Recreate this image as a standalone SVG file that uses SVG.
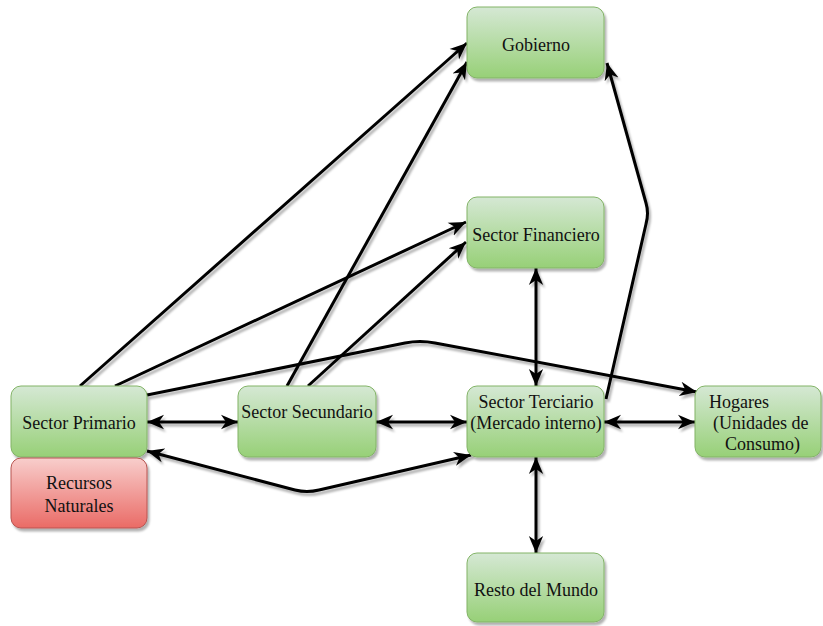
<svg xmlns="http://www.w3.org/2000/svg" width="823" height="626" viewBox="0 0 823 626">
<defs>
  <linearGradient id="gGreen" x1="0" y1="0" x2="0" y2="1">
    <stop offset="0" stop-color="#d5e8d4"/>
    <stop offset="1" stop-color="#97d077"/>
  </linearGradient>
  <linearGradient id="gRed" x1="0" y1="0" x2="0" y2="1">
    <stop offset="0" stop-color="#f8cecc"/>
    <stop offset="1" stop-color="#ea6b66"/>
  </linearGradient>
  <filter id="sh" x="-10%" y="-10%" width="130%" height="130%">
    <feDropShadow dx="2" dy="3" stdDeviation="1.2" flood-color="#000" flood-opacity="0.3"/>
  </filter>
  <marker id="arr" viewBox="0 0 10 10" refX="10" refY="5" markerWidth="17" markerHeight="17" markerUnits="userSpaceOnUse" orient="auto-start-reverse">
    <path d="M0,0.8 L10,5 L0,9.2 L3,5 Z" fill="#000"/>
  </marker>
  <style>
    .g { fill: url(#gGreen); stroke: #82b366; stroke-width: 1; filter: url(#sh); }
    .r { fill: url(#gRed); stroke: #b85450; stroke-width: 1; filter: url(#sh); }
    text { font-family: "Liberation Serif", "Times New Roman", serif; font-size: 18px; fill: #111; }
    .c { text-anchor: middle; }
    .e { fill: none; stroke: #000; stroke-width: 3; stroke-linejoin: round; }
    .a2 { marker-start: url(#arr); marker-end: url(#arr); }
    .a1 { marker-end: url(#arr); }
  </style>
</defs>
<g id="connectors" filter="url(#sh)">
  <path class="e a2" d="M147,422 L238,422"/>
  <path class="e a2" d="M376,422 L467,422"/>
  <path class="e a2" d="M604,422 L695,422"/>
  <path class="e a2" d="M536,268 L536,386"/>
  <path class="e a2" d="M536,457 L536,553"/>
  <path class="e a1" d="M80,386 L467,43"/>
  <path class="e a1" d="M115,386 L466,222"/>
  <path class="e a1" d="M287,386 L467,62"/>
  <path class="e a1" d="M308,386 L466,242"/>
  <path class="e a1" d="M147,395 L405,343 Q420,340 435,343 L697,392"/>
  <path class="e a2" d="M147,451 L295,490 Q307,493 319,490 L471,455"/>
  <path class="e a1" d="M606,399 L646,224 Q649,213 646,203 L607,63"/>
</g>
<g id="gobierno">
  <rect class="g" x="467" y="7" width="137" height="71" rx="10"/>
  <text class="c" x="536" y="51">Gobierno</text>
</g>
<g id="sector-financiero">
  <rect class="g" x="467" y="197" width="137" height="71" rx="10"/>
  <text class="c" x="536" y="241">Sector Financiero</text>
</g>
<g id="sector-primario">
  <rect class="g" x="11" y="386" width="136" height="71" rx="10"/>
  <text class="c" x="79" y="429">Sector Primario</text>
</g>
<g id="recursos-naturales">
  <rect class="r" x="11" y="458" width="136" height="70" rx="10"/>
  <text class="c" x="79" y="489">Recursos</text>
  <text class="c" x="79" y="512">Naturales</text>
</g>
<g id="sector-secundario">
  <rect class="g" x="238" y="386" width="138" height="71" rx="10"/>
  <text class="c" x="307" y="418">Sector Secundario</text>
</g>
<g id="sector-terciario">
  <rect class="g" x="467" y="386" width="137" height="71" rx="10"/>
  <text class="c" x="536" y="408">Sector Terciario</text>
  <text class="c" x="536" y="429">(Mercado interno)</text>
</g>
<g id="hogares">
  <rect class="g" x="695" y="386" width="126" height="71" rx="10"/>
  <text x="709" y="408">Hogares</text>
  <text x="713" y="429">(Unidades de</text>
  <text x="725" y="450">Consumo)</text>
</g>
<g id="resto-del-mundo">
  <rect class="g" x="467" y="553" width="137" height="69" rx="10"/>
  <text class="c" x="536" y="596">Resto del Mundo</text>
</g>
</svg>
